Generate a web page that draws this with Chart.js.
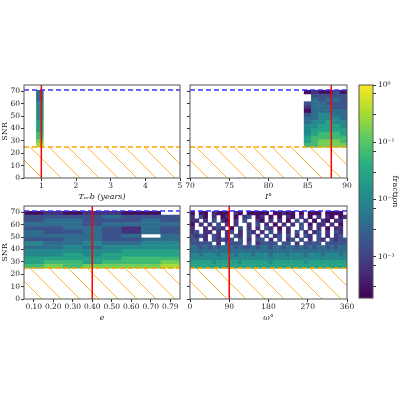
<!DOCTYPE html><html><head><meta charset="utf-8">
<script src="https://cdn.jsdelivr.net/npm/chart.js@4"></script>
<style>body{margin:0;width:400px;height:400px;background:#fff;position:relative;overflow:hidden}canvas{position:absolute;left:0;top:0}</style>
</head><body>
<script>
// ---- data ----
const snrEdges = Array.from({length:16},(_,i)=>25+i*46/15); // bin edges 25..71
const snrTicks = [0,10,20,30,40,50,60,70];
const snrThreshold = 25, snrMax = 71;
// colour codes 0..9 -> fraction value
const levelFractions = [2.6e-4,6.5e-4,1.6e-3,4.0e-3,1.0e-2,2.5e-2,6.3e-2,1.6e-1,3.2e-1,6.5e-1];
// panel 1: T_orb
const torbEdges = [0.85,1.05];
const torbTicks = [1,2,3,4,5];
const torbTrue = 1.0;
const torbGrid = ["3","3","3","4","4","4","4","4","5","5","5","6","6","7","8"];
// panel 2: inclination
const incEdges = [84.5,85.42,86.33,87.25,88.17,89.08,90];
const incTicks = [70,75,80,85,90];
const incTrue = 88;
const incGrid = ["010020"," 22222"," 32332","233222","133322","033333","234433","334443","344544","445554","455555","456665","566666","567776","667777"];
// panel 3: eccentricity
const eccLabels = ["0.10","0.20","0.30","0.40","0.50","0.60","0.70","0.79"];
const eccTrueIndex = 3.5;
const eccGrid = ["0101100 ","22223222","23322232","33323333","22332132","32232132","333323 3","22332233","43343344","33434444","44444555","44545555","55555666","56656667","67677778"];
// panel 4: omega
const omegaEdges = Array.from({length:37},(_,i)=>i*10);
const omegaTicks = [0,90,180,270,360];
const omegaTrue = 90;
const omegaGrid = [
"0 00 1000 10 00000 00100 0 000 0000 ",
"1 20 1 01 0 12 01 0 0 10 1 0 1 10 01",
"11 1 2 10 1 2  10 1 1 0 2 1 0 10 11 ",
"0 1 1 2 1 1  1 2 1 0 1 1 2 0 11 1 0 ",
"1  1 121 0 2 1 1 21 0 1  2 1 1 0 11 ",
"12 11 1 12 1 21 1 2 1 1 2 1 12 1 21 ",
"2121 21 1 21 2 1 2 12 2 1 21 2 1 12 ",
"22 1 21212 2 1 22 1 2 12 2 1 21 2122",
"22222 1 2222 2 12222 22 1 2222 22222",
"332323233323223233233233232323323233",
"333333333333333333333333333333333333",
"443444344434443444344434443444344434",
"444444444444444444444444444444444444",
"555554555554555555455555554555555555",
"555555555555555555555555555555555555"];
const cbarTicks = [1e-3,1e-2,1e-1,1];
const cmin = Math.pow(10,-3.72), cmax = 1;

// ---- colour map ----
const vstops=['#440154','#472d7b','#3b528b','#2c728e','#21918c','#28ae80','#5ec962','#addc30','#fde725'];
function hx(h){return [1,3,5].map(i=>parseInt(h.substr(i,2),16));}
function viridis(t){t=Math.max(0,Math.min(1,t));const p=t*(vstops.length-1);const i=Math.min(vstops.length-2,Math.floor(p));const f=p-i;const a=hx(vstops[i]),b=hx(vstops[i+1]);return `rgb(${a.map((v,k)=>Math.round(v+(b[k]-v)*f)).join(',')})`;}
function colorOf(v){return viridis((Math.log10(v)-Math.log10(cmin))/(Math.log10(cmax)-Math.log10(cmin)));}

const FONT={family:'"DejaVu Serif","Liberation Serif",serif',size:7.5};
Chart.defaults.font=FONT; Chart.defaults.color='#222';

function panel(o){
  const c=document.createElement('canvas');c.width=400;c.height=400;document.body.appendChild(c);
  const plug={id:'p'+o.id,
    beforeDatasetsDraw(ch){
      const {ctx,chartArea:a,scales:{x,y}}=ch;ctx.save();
      ctx.beginPath();ctx.rect(a.left,a.top,a.right-a.left,a.bottom-a.top);ctx.clip();
      o.grid.forEach((row,ri)=>{const r=o.grid.length-1-ri;
        for(let ci=0;ci<o.xEdges.length-1;ci++){const ch2=row[ci];if(ch2===undefined||ch2===' ')continue;
          const x0=x.getPixelForValue(o.xEdges[ci]),x1=x.getPixelForValue(o.xEdges[ci+1]);
          const y0=y.getPixelForValue(snrEdges[r+1]),y1=y.getPixelForValue(snrEdges[r]);
          ctx.fillStyle=colorOf(levelFractions[+ch2]);ctx.fillRect(x0,y0,x1-x0+0.5,y1-y0+0.5);}});
      // hatch
      const yt=y.getPixelForValue(snrThreshold),yb=a.bottom,H=yb-yt;
      ctx.beginPath();ctx.rect(a.left,yt,a.right-a.left,H);ctx.clip();
      ctx.strokeStyle='#ffa500';ctx.lineWidth=0.8;ctx.beginPath();
      for(let x0=a.left+1-H-40;x0<a.right+5;x0+=19){ctx.moveTo(x0,yt);ctx.lineTo(x0+H,yb);}ctx.stroke();
      ctx.restore();ctx.save();
      ctx.beginPath();ctx.rect(a.left,a.top,a.right-a.left,a.bottom-a.top);ctx.clip();
      ctx.lineWidth=1.4;ctx.setLineDash([5,3]);
      ctx.strokeStyle='#ffa500';ctx.beginPath();ctx.moveTo(a.left,yt);ctx.lineTo(a.right,yt);ctx.stroke();
      const yB=y.getPixelForValue(snrMax);
      ctx.strokeStyle='#3535ff';ctx.beginPath();ctx.moveTo(a.left,yB);ctx.lineTo(a.right,yB);ctx.stroke();
      ctx.setLineDash([]);ctx.strokeStyle='#ff0000';ctx.lineWidth=1.5;const xr=x.getPixelForValue(o.truth);
      ctx.beginPath();ctx.moveTo(xr,a.top);ctx.lineTo(xr,a.bottom);ctx.stroke();
      ctx.restore();
    },
    afterDraw(ch){const {ctx,chartArea:a}=ch;ctx.save();ctx.strokeStyle='#555';ctx.lineWidth=1;ctx.strokeRect(a.left,a.top,a.right-a.left,a.bottom-a.top);ctx.restore();}
  };
  new Chart(c,{type:'scatter',data:{datasets:[{data:[]}]},plugins:[plug],
    options:{responsive:false,animation:false,events:[],
      layout:{padding:{left:o.L-24,right:400-o.R,top:o.T,bottom:400-o.B-24}},
      plugins:{legend:{display:false},tooltip:{enabled:false}},
      scales:{
        x:{type:'linear',min:o.xmin,max:o.xmax,afterFit(s){s.height=24;},
          afterBuildTicks(s){s.ticks=o.xticks.map(v=>({value:v}));},
          ticks:{maxRotation:0,padding:1,callback:(v,i)=>o.xlabels?o.xlabels[i]:String(v)},
          grid:{display:true,drawOnChartArea:false,tickLength:3,color:'#333'},border:{display:false},
          title:{display:true,text:o.xtitle,padding:{top:0,bottom:0},font:{...FONT,size:8,style:'italic'}}},
        y:{type:'linear',min:0,max:75,afterFit(s){s.width=24;},
          afterBuildTicks(s){s.ticks=snrTicks.map(v=>({value:v}));},
          ticks:{display:o.ylab,padding:1},
          grid:{display:true,drawOnChartArea:false,tickLength:3,color:'#333'},border:{display:false},
          title:{display:o.ylab,text:'SNR',padding:0,font:{...FONT,size:8}}}
      }}});
}
panel({id:1,L:24,R:180,T:85,B:178,xmin:0.5,xmax:5,xEdges:torbEdges,grid:torbGrid,xticks:torbTicks,truth:torbTrue,xtitle:'Tₒᵣb (years)',ylab:true});
panel({id:2,L:190,R:347,T:85,B:178,xmin:70,xmax:90,xEdges:incEdges,grid:incGrid,xticks:incTicks,truth:incTrue,xtitle:'I°',ylab:false});
panel({id:3,L:24,R:180,T:206,B:299,xmin:0,xmax:8,xEdges:[0,1,2,3,4,5,6,7,8],grid:eccGrid,xticks:eccLabels.map((_,i)=>i+0.5),xlabels:eccLabels,truth:eccTrueIndex,xtitle:'e',ylab:true});
panel({id:4,L:190,R:347,T:206,B:299,xmin:0,xmax:360,xEdges:omegaEdges,grid:omegaGrid,xticks:omegaTicks,truth:omegaTrue,xtitle:'ω°',ylab:false});

// colorbar
(function(){
  const c=document.createElement('canvas');c.width=400;c.height=400;document.body.appendChild(c);
  const sup={'-':'⁻','0':'⁰','1':'¹','2':'²','3':'³'};
  new Chart(c,{type:'scatter',data:{datasets:[{data:[]}]},
    plugins:[{id:'cb',beforeDatasetsDraw(ch){const {ctx,chartArea:a,scales:{y}}=ch;
      for(let p=a.top;p<a.bottom;p++){const v=y.getValueForPixel(p+0.5);ctx.fillStyle=colorOf(v);ctx.fillRect(a.left,p,a.right-a.left,1.2);}
      ctx.strokeStyle='#555';ctx.strokeRect(a.left,a.top,a.right-a.left,a.bottom-a.top);}}],
    options:{responsive:false,animation:false,events:[],
      layout:{padding:{left:359,right:0,top:85,bottom:102}},
      plugins:{legend:{display:false},tooltip:{enabled:false}},
      scales:{x:{display:false,min:0,max:1},
        y:{type:'logarithmic',position:'right',min:cmin,max:cmax,afterFit(s){s.width=27;},
          ticks:{padding:2,callback:(v)=>{const l=Math.log10(v);return Math.abs(l-Math.round(l))<1e-6?'10'+String(Math.round(l)).split('').map(ch=>sup[ch]).join(''):'';}},
          grid:{display:true,drawOnChartArea:false,tickLength:3,color:'#333'},border:{display:false},
          title:{display:true,text:'fraction',padding:0,font:{...FONT,size:8}}}}}});
})();
</script></body></html>
